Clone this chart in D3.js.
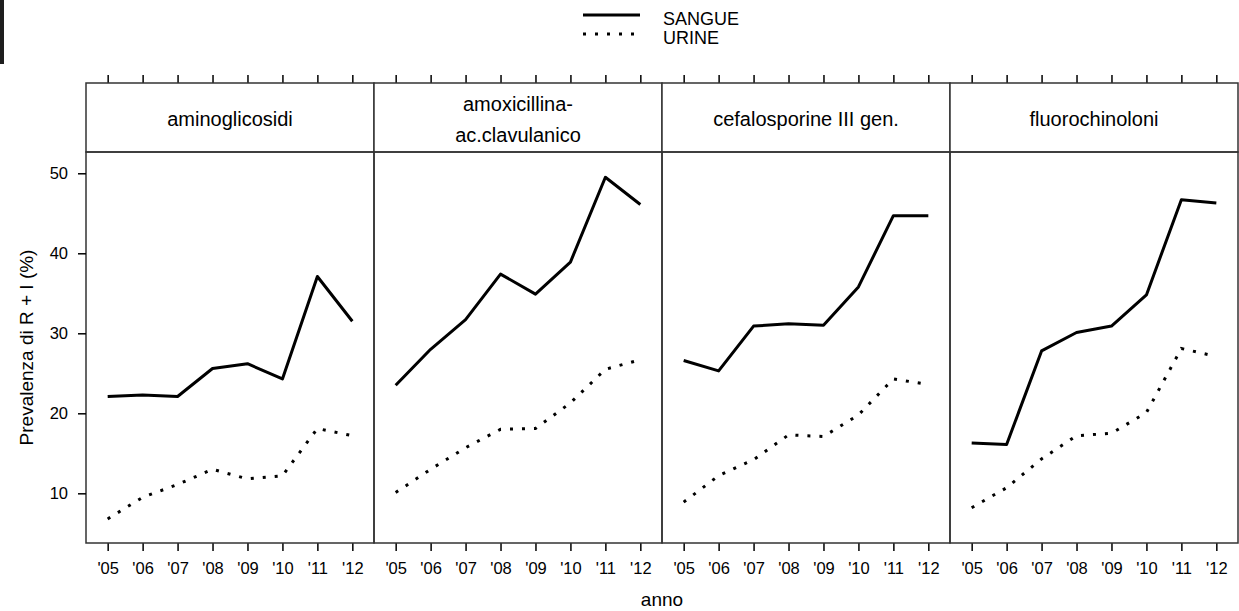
<!DOCTYPE html>
<html><head><meta charset="utf-8">
<script src="https://cdn.jsdelivr.net/npm/d3@7"></script>
<style>
body{margin:0;background:#fff;}
svg text{font-family:"Liberation Sans",Arial,sans-serif;fill:#000;}
</style></head>
<body>
<svg id="chart" width="1239" height="611"></svg>
<script>
const years = [2005,2006,2007,2008,2009,2010,2011,2012];
const yearLabels = ["'05","'06","'07","'08","'09","'10","'11","'12"];
const panels = ["aminoglicosidi","amoxicillina-\nac.clavulanico","cefalosporine III gen.","fluorochinoloni"];
const seriesNames = ["SANGUE","URINE"];
const yTicks = [10,20,30,40,50];
const sangue = [
  [22.1,22.3,22.1,25.6,26.2,24.3,37.1,31.5],
  [23.5,28.0,31.7,37.4,34.9,38.9,49.5,46.1],
  [26.6,25.3,30.9,31.2,31.0,35.8,44.7,44.7],
  [16.3,16.1,27.8,30.1,30.9,34.8,46.7,46.3]
];
const urine = [
  [6.8,9.5,11.1,13.0,11.8,12.2,18.1,17.2],
  [10.1,13.0,15.7,18.0,18.1,21.3,25.5,26.7],
  [8.9,12.2,14.2,17.3,17.1,19.8,24.3,23.6],
  [8.2,10.7,14.3,17.2,17.5,20.1,28.1,27.1]
];

const svg = d3.select("#chart");
const left0 = 86, pw = 288, stripTop = 83, stripBot = 152, plotBot = 543;
const borderCol = "#333";

// small dark artifact at top-left
svg.append("rect").attr("x",0).attr("y",0).attr("width",4).attr("height",64).attr("fill","#1e1e1e");

const x = d3.scaleLinear().domain([2005-0.62, 2012+0.62]).range([0, pw]);
const y = d3.scaleLinear().domain([3.79, 52.66]).range([plotBot, stripBot]);

const line = d3.line().x((d,i)=>x(years[i])).y(d=>y(d));

panels.forEach((name, p) => {
  const g = svg.append("g").attr("transform", `translate(${left0 + p*pw},0)`);
  // bottom axis
  const xb = d3.axisBottom(x).tickValues(years).tickFormat((d,i)=>yearLabels[i]).tickSizeInner(8).tickSizeOuter(0).tickPadding(11);
  const ab = g.append("g").attr("transform",`translate(0,${plotBot})`).call(xb);
  ab.select(".domain").remove();
  ab.selectAll("line").attr("stroke","#000").attr("stroke-width",1.5);
  ab.selectAll("text").attr("font-size","16.5px").attr("font-family","Liberation Sans, Arial, sans-serif");
  // top ticks
  const xt = d3.axisTop(x).tickValues(years).tickFormat("").tickSizeInner(8).tickSizeOuter(0);
  const at = g.append("g").attr("transform",`translate(0,${stripTop})`).call(xt);
  at.select(".domain").remove();
  at.selectAll("line").attr("stroke","#000").attr("stroke-width",1.5);

  // strip
  g.append("rect").attr("x",0).attr("y",stripTop).attr("width",pw).attr("height",stripBot-stripTop)
    .attr("fill","#fff").attr("stroke",borderCol).attr("stroke-width",1.5);
  const lines = name.split("\n");
  const st = g.append("text").attr("x",pw/2).attr("text-anchor","middle").attr("font-size","20px");
  if (lines.length === 1) {
    st.attr("y",126).text(lines[0]);
  } else {
    st.append("tspan").attr("x",pw/2).attr("y",111).text(lines[0]);
    st.append("tspan").attr("x",pw/2).attr("y",142).text(lines[1]);
  }
  // plot frame
  g.append("rect").attr("x",0).attr("y",stripBot).attr("width",pw).attr("height",plotBot-stripBot)
    .attr("fill","none").attr("stroke",borderCol).attr("stroke-width",1.5);

  g.append("path").datum(sangue[p]).attr("d",line).attr("fill","none")
    .attr("stroke","#000").attr("stroke-width",3).attr("stroke-linejoin","round");
  g.append("path").datum(urine[p]).attr("d",line).attr("fill","none")
    .attr("stroke","#000").attr("stroke-width",3).attr("stroke-dasharray","3,9");
});

// y axis on first panel
const ya = d3.axisLeft(y).tickValues(yTicks).tickSizeInner(8).tickSizeOuter(0).tickPadding(10);
const ag = svg.append("g").attr("transform",`translate(${left0},0)`).call(ya);
ag.select(".domain").remove();
ag.selectAll("line").attr("stroke","#000").attr("stroke-width",1.5);
ag.selectAll("text").attr("font-size","16.5px").attr("font-family","Liberation Sans, Arial, sans-serif");

// axis titles
svg.append("text").attr("x", left0 + 2*pw).attr("y",606).attr("text-anchor","middle").attr("font-size","19px").text("anno");
svg.append("text").attr("transform",`translate(33,${(stripBot+plotBot)/2}) rotate(-90)`)
  .attr("text-anchor","middle").attr("font-size","19px").text("Prevalenza di R + I (%)");

// legend
const lg = svg.append("g");
const legY = [15, 34];
seriesNames.forEach((s,i) => {
  lg.append("line").attr("x1",583).attr("x2",640).attr("y1",legY[i]).attr("y2",legY[i])
    .attr("stroke","#000").attr("stroke-width",3).attr("stroke-dasharray", i===0 ? null : "3,9");
  lg.append("text").attr("x",663).attr("y",legY[i]+10).attr("font-size","18px").text(s);
});
</script>
</body></html>
